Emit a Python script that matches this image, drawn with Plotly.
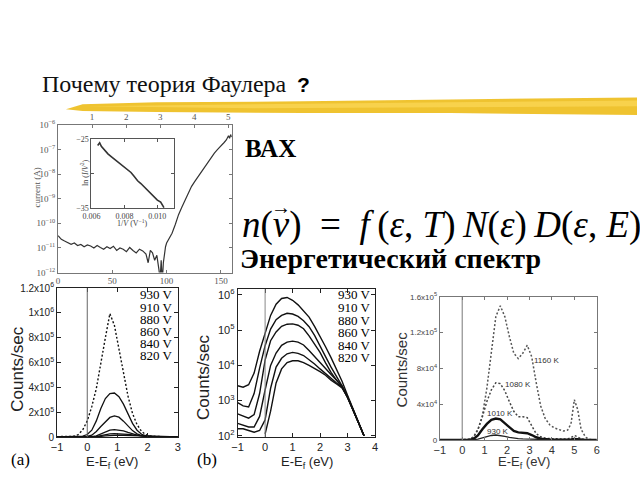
import plotly.graph_objects as go

W, H = 640, 480
def px(x): return x / W
def py(y): return 1 - y / H

SERIF = "'Liberation Serif', 'Times New Roman', 'DejaVu Serif', serif"
SANS = "'Liberation Sans', Arial, sans-serif"

# ---------------- data ----------------
# I-V curve (main panel): voltage (V) and log10(current / A)
iv_voltage = [0, 3, 6, 9, 12, 15, 18, 21, 24, 27, 30, 33, 36, 39, 42, 45, 48, 51, 54, 57,
              60, 63, 66, 69, 72, 75, 78, 81, 83, 85, 87, 89, 91, 93, 94, 95, 96, 97, 98, 99,
              100, 102, 105, 108, 111, 114, 117, 120, 123, 126, 129, 132, 135, 138, 141, 144,
              147, 150, 153, 155, 157, 158, 159, 160]
iv_log10_current = [-10.5, -10.65, -10.72, -10.78, -10.85, -10.8, -10.9, -10.86, -10.95, -10.88,
                    -10.92, -11.0, -10.9, -10.98, -11.05, -10.95, -11.02, -10.93, -11.1, -11.0,
                    -11.05, -11.15, -10.98, -11.1, -11.2, -11.05, -11.12, -11.25, -11.6, -11.1,
                    -11.2, -11.5, -11.3, -11.9, -12.3, -11.5, -12.4, -11.6, -11.2, -10.95,
                    -10.8, -10.65, -10.4, -10.05, -9.65, -9.35, -9.05, -8.75, -8.5, -8.3,
                    -8.1, -7.9, -7.72, -7.55, -7.33, -7.15, -7.0, -6.88, -6.72, -6.62,
                    -6.45, -6.55, -6.4, -6.5]
top_axis_ticks = [1, 2, 3, 4, 5]
iv_y_exponents = [-12, -11, -10, -9, -8, -7, -6]

# Fowler-Nordheim inset
fn_inv_v = [0.00638, 0.0065, 0.0066, 0.0067, 0.0068, 0.007, 0.0072, 0.0074, 0.0076, 0.0078,
            0.008, 0.0082, 0.0084, 0.0086, 0.0088, 0.009, 0.0092, 0.0094, 0.0096, 0.0098,
            0.01, 0.0102, 0.0104]
fn_ln_iv2 = [-25.9, -25.5, -26.0, -26.3, -26.6, -27.1, -27.5, -27.9, -28.2, -28.6,
             -29.0, -29.4, -29.8, -30.4, -31.0, -31.4, -31.9, -32.4, -32.8, -33.4,
             -33.8, -34.1, -34.9]

# Panel (a): linear energy spectra
voltage_labels = ["930 V", "910 V", "880 V", "860 V", "840 V", "820 V"]
energy_a = [-1, -0.6, -0.45, -0.3, -0.15, 0, 0.15, 0.3, 0.45, 0.6, 0.75, 0.9, 1.05, 1.2,
            1.35, 1.5, 1.65, 1.8, 1.95, 2.1, 2.3, 2.6, 3.0]
counts_a_930 = [3000, 4000, 6000, 20000, 58000, 130000, 245000, 390000, 610000, 800000, 995000,
                900000, 710000, 520000, 330000, 190000, 100000, 45000, 18000, 7000, 3000, 1500, 500]
counts_a_910 = [800, 1000, 1500, 3000, 7000, 20000, 55000, 130000, 230000, 310000, 350000,
                355000, 325000, 265000, 180000, 110000, 55000, 22000, 9000, 4000, 2000, 1000, 400]
counts_a_880 = [300, 400, 600, 1000, 2000, 5000, 15000, 45000, 85000, 125000, 158000,
                170000, 160000, 128000, 88000, 52000, 26000, 12000, 6000, 3000, 1500, 800, 300]
counts_a_860 = [200, 250, 300, 400, 600, 1000, 3000, 10000, 25000, 42000, 55000,
                60000, 58000, 50000, 38000, 26000, 16000, 9000, 5000, 2800, 1500, 700, 300]
counts_a_840 = [100, 120, 150, 200, 250, 300, 1000, 4000, 11000, 19000, 25000,
                28000, 28000, 26000, 22000, 17000, 12000, 8000, 5000, 3000, 1700, 800, 300]
counts_a_820 = [50, 60, 70, 80, 90, 100, 300, 1500, 5000, 9500, 12500,
                14500, 15000, 14500, 13000, 11000, 8500, 6500, 4500, 3000, 1800, 800, 300]
counts_a = [counts_a_930, counts_a_910, counts_a_880, counts_a_860, counts_a_840, counts_a_820]
a_ytick_vals = [0, 200000, 400000, 600000, 800000, 1000000, 1200000]
a_ytick_text = ["0", "2x10<sup>5</sup>", "4x10<sup>5</sup>", "6x10<sup>5</sup>",
                "8x10<sup>5</sup>", "1x10<sup>6</sup>", "1.2x10<sup>6</sup>"]

# Panel (b): log energy spectra, log10(counts/sec)
energy_b = [-1.0, -0.8, -0.6, -0.4, -0.2, 0.0, 0.2, 0.4, 0.6, 0.8, 1.0, 1.2, 1.4, 1.6,
            1.8, 2.0, 2.2, 2.4, 2.6, 2.8, 3.0, 3.2, 3.4, 3.6]
log_b_930 = [3.42, 3.38, 3.45, 3.78, 4.40, 4.92, 5.42, 5.74, 5.90, 5.93, 5.85, 5.72, 5.56, 5.37,
             5.11, 4.83, 4.53, 4.22, 3.90, 3.55, 3.15, 2.75, 2.37, 2.0]
log_b_910 = [2.94, 2.85, 2.82, 3.20, 3.92, 4.56, 5.03, 5.30, 5.42, 5.48, 5.46, 5.39, 5.27, 5.10,
             4.85, 4.57, 4.25, 3.95, 3.70, 3.42, 3.10, 2.75, 2.37, 2.0]
log_b_880 = [2.62, 2.55, 2.50, 2.60, 3.20, 4.15, 4.70, 4.95, 5.11, 5.17, 5.18, 5.14, 5.04, 4.84,
             4.60, 4.37, 4.07, 3.80, 3.58, 3.38, 3.08, 2.75, 2.37, 2.0]
log_b_860 = [2.35, 2.30, 2.25, 2.25, 2.55, 3.30, 4.00, 4.35, 4.57, 4.66, 4.69, 4.66, 4.58, 4.42,
             4.25, 4.05, 3.90, 3.74, 3.58, 3.42, 3.10, 2.75, 2.37, 2.0]
log_b_840 = [2.20, 2.20, 2.15, 2.10, 2.15, 2.45, 3.35, 3.95, 4.20, 4.33, 4.37, 4.34, 4.28, 4.17,
             4.04, 3.90, 3.76, 3.62, 3.50, 3.38, 3.10, 2.75, 2.37, 2.0]
log_b_820 = [None, None, None, None, None, 2.05, 2.70, 3.50, 3.90, 4.08, 4.13, 4.13, 4.08, 4.00,
             3.92, 3.82, 3.72, 3.58, 3.47, 3.36, 3.10, 2.75, 2.37, 2.0]
log_b = [log_b_930, log_b_910, log_b_880, log_b_860, log_b_840, log_b_820]
b_exponents = [2, 3, 4, 5, 6]

# Panel (c): temperature spectra (counts/sec in units of 1e4)
temp_labels = ["1160 K", "1080 K", "1010 K", "930 K"]
temp_label_pos_x = [3.74, 2.47, 1.69, 1.61]
temp_label_pos_y = [89000, 61700, 30000, 9800]
energy_c = [-1, 0, 0.3, 0.5, 0.7, 0.9, 1.1, 1.3, 1.5, 1.7, 1.9, 2.1, 2.3, 2.5, 2.7, 2.9, 3.1,
            3.3, 3.5, 3.7, 3.9, 4.1, 4.3, 4.5, 4.7, 4.85, 5.0, 5.15, 5.3, 5.5, 5.7, 6.0]
c_1160 = [0, 0, 0.1, 0.3, 1.1, 2.7, 5.8, 9.8, 13.8, 15.0, 13.8, 11.6, 9.7, 9.1, 9.7, 10.6, 9.3,
          6.4, 3.8, 2.4, 1.7, 1.35, 1.15, 1.0, 1.1, 1.8, 4.5, 3.4, 1.2, 0.3, 0.05, 0]
c_1080 = [0, 0, 0.05, 0.3, 1.2, 2.6, 4.3, 5.6, 6.4, 6.3, 5.5, 4.3, 3.2, 2.6, 2.6, 2.5, 1.6,
          0.7, 0.35, 0.2, 0.15, 0.12, 0.1, 0.1, 0.12, 0.25, 0.5, 0.35, 0.1, 0.02, 0, 0]
c_1010 = [0, 0, 0, 0.1, 0.5, 1.2, 1.8, 2.25, 2.4, 2.3, 1.9, 1.4, 1.0, 0.85, 0.8, 0.75, 0.55,
          0.3, 0.15, 0.08, 0.05, 0.04, 0.03, 0.03, 0.03, 0.05, 0.1, 0.06, 0.02, 0, 0, 0]
c_930 = [0, 0, 0, 0.02, 0.1, 0.25, 0.4, 0.5, 0.55, 0.5, 0.4, 0.3, 0.2, 0.15, 0.12, 0.1, 0.06,
         0.03, 0.02, 0.01, 0, 0, 0, 0, 0, 0, 0.02, 0.01, 0, 0, 0, 0]
counts_c = [c_1160, c_1080, c_1010, c_930]
c_ytick_vals = [0, 40000, 80000, 120000, 160000]
c_ytick_text = ["0", "4x10<sup>4</sup>", "8x10<sup>4</sup>", "1.2x10<sup>5</sup>", "1.6x10<sup>5</sup>"]

# ---------------- figure ----------------
fig = go.Figure()

# I-V main
fig.add_trace(go.Scatter(x=iv_voltage, y=[10 ** v for v in iv_log10_current], mode="lines",
                         line=dict(color="#333", width=1.2), xaxis="x", yaxis="y"))
fig.add_trace(go.Scatter(x=[None], y=[None], xaxis="x2", yaxis="y"))
# inset
fig.add_trace(go.Scatter(x=fn_inv_v, y=fn_ln_iv2, mode="lines",
                         line=dict(color="#333", width=1.6), xaxis="x3", yaxis="y3"))
# panel a
for i, arr in enumerate(counts_a):
    fig.add_trace(go.Scatter(x=energy_a, y=arr, mode="lines",
                             line=dict(color="#111", width=1.4 if i == 0 else 1.3,
                                       dash="2px,2px" if i == 0 else "solid"),
                             xaxis="x4", yaxis="y4"))
# panel b
for i, arr in enumerate(log_b):
    fig.add_trace(go.Scatter(x=energy_b, y=[None if v is None else 10 ** v for v in arr],
                             mode="lines", line=dict(color="#111", width=1.4),
                             xaxis="x5", yaxis="y5"))
# panel c
c_styles = [dict(color="#555", width=1.5, dash="2px,2px"), dict(color="#444", width=1.5, dash="2px,2px"),
            dict(color="#111", width=2.4), dict(color="#222", width=1.3)]
for arr, st in zip(counts_c, c_styles):
    fig.add_trace(go.Scatter(x=energy_c, y=[v * 1e4 for v in arr], mode="lines", line=st,
                             xaxis="x6", yaxis="y6"))

frame = dict(showline=True, mirror="ticks", ticks="inside", showgrid=False, zeroline=False,
             linewidth=1)

layout = dict(
    width=W, height=H, margin=dict(l=0, r=0, t=0, b=0),
    paper_bgcolor="white", plot_bgcolor="rgba(0,0,0,0)", showlegend=False,
    # I-V
    xaxis=dict(domain=[px(50), px(227)], range=[0, 160], anchor="y", tickvals=[0, 50, 100, 150],
               linecolor="#777", tickcolor="#777", ticklen=3,
               tickfont=dict(family=SERIF, size=9, color="#555"),
               showline=True, mirror=False, ticks="inside", showgrid=False, zeroline=False),
    xaxis2=dict(overlaying="x", side="top", anchor="y", range=[0, 5.1], tickvals=top_axis_ticks,
                linecolor="#777", tickcolor="#777", ticklen=3, showline=True, ticks="inside",
                showgrid=False, zeroline=False,
                tickfont=dict(family=SERIF, size=9, color="#555")),
    yaxis=dict(domain=[py(273), py(121)], type="log", range=[-12, -6], anchor="x",
               tickvals=[10 ** e for e in iv_y_exponents],
               ticktext=["10<sup>−%d</sup>" % (-e) for e in iv_y_exponents],
               linecolor="#777", tickcolor="#777", ticklen=3,
               tickfont=dict(family=SERIF, size=9, color="#555"), **frame),
    # inset
    xaxis3=dict(domain=[px(84), px(168)], range=[0.006, 0.011], anchor="y3",
                tickvals=[0.006, 0.008, 0.010], ticktext=["0.006", "0.008", "0.010"],
                linecolor="#555", tickcolor="#555", ticklen=3,
                tickfont=dict(family=SERIF, size=8, color="#444"), **frame),
    yaxis3=dict(domain=[py(207), py(136)], range=[-35, -25], anchor="x3",
                tickvals=[-35, -30, -25], ticktext=["−35", " ", "−25"],
                linecolor="#555", tickcolor="#555", ticklen=3,
                tickfont=dict(family=SERIF, size=8, color="#444"), **frame),
    # panel a
    xaxis4=dict(domain=[px(49), px(172)], range=[-1, 3], anchor="y4", tickvals=[-1, 0, 1, 2, 3],
                linecolor="#222", tickcolor="#222", ticklen=4,
                tickfont=dict(family=SANS, size=11, color="#222"), **frame),
    yaxis4=dict(domain=[py(442), py(289)], range=[0, 1.2e6], anchor="x4",
                tickvals=a_ytick_vals, ticktext=a_ytick_text,
                linecolor="#222", tickcolor="#222", ticklen=4,
                tickfont=dict(family=SANS, size=10, color="#222"), **frame),
    # panel b
    xaxis5=dict(domain=[px(233), px(373)], range=[-1, 4], anchor="y5",
                tickvals=[-1, 0, 1, 2, 3, 4],
                linecolor="#222", tickcolor="#222", ticklen=4,
                tickfont=dict(family=SANS, size=11, color="#222"), **frame),
    yaxis5=dict(domain=[py(442), py(290)], type="log", range=[1.964, 6.166], anchor="x5",
                tickvals=[10 ** e for e in b_exponents],
                ticktext=["10<sup>%d</sup>" % e for e in b_exponents],
                linecolor="#222", tickcolor="#222", ticklen=4,
                tickfont=dict(family=SANS, size=11, color="#222"), **frame),
    # panel c
    xaxis6=dict(domain=[px(439), px(599)], range=[-1, 6], anchor="y6",
                tickvals=[-1, 0, 1, 2, 3, 4, 5, 6],
                linecolor="#777", tickcolor="#777", ticklen=3,
                tickfont=dict(family=SANS, size=11, color="#333"), **frame),
    yaxis6=dict(domain=[py(445), py(298)], range=[0, 1.6e5], anchor="x6",
                tickvals=c_ytick_vals, ticktext=c_ytick_text,
                linecolor="#777", tickcolor="#777", ticklen=3,
                tickfont=dict(family=SANS, size=8, color="#444"), **frame),
)
fig.update_layout(**layout)

# ---------------- shapes ----------------
def ppath(points):
    s = "M %f,%f " % (px(points[0][0]), py(points[0][1]))
    for x, y in points[1:]:
        s += "L %f,%f " % (px(x), py(y))
    return s + "Z"

shapes = [
    dict(type="path", xref="paper", yref="paper", layer="above",
         path=ppath([(58, 105), (75, 100), (150, 98), (300, 97), (450, 95), (640, 93),
                     (640, 111), (450, 109), (300, 109), (150, 108), (75, 107)]),
         fillcolor="rgba(238,190,30,0.92)", line=dict(width=0)),
    dict(type="path", xref="paper", yref="paper", layer="above",
         path=ppath([(80, 102), (250, 100), (450, 98), (640, 96),
                     (640, 102), (450, 103), (250, 104)]),
         fillcolor="rgba(250,214,84,0.8)", line=dict(width=0)),
    # x = 0 reference lines
    dict(type="line", xref="x4", yref="y4 domain", x0=0, x1=0, y0=0, y1=1,
         line=dict(color="#666", width=1)),
    dict(type="line", xref="x5", yref="y5 domain", x0=0, x1=0, y0=0, y1=1,
         line=dict(color="#888", width=1)),
    dict(type="line", xref="x6", yref="y6 domain", x0=0, x1=0, y0=0, y1=1,
         line=dict(color="#777", width=1)),
]
fig.update_layout(shapes=shapes)

# ---------------- annotations ----------------
ann = []
def text(x, y, t, size, family=SERIF, color="black", xanchor="left", yanchor="middle", angle=0):
    ann.append(dict(x=px(x), y=py(y), xref="paper", yref="paper", text=t, showarrow=False,
                    xanchor=xanchor, yanchor=yanchor, textangle=angle,
                    font=dict(family=family, size=size, color=color)))

text(32, 79, "Почему теория Фаулера", 24, color="#111")
text(300, 80, "<b>?</b>", 21, family=SANS, xanchor="center")
text(238, 145, "<b>ВАХ</b>", 25)
TS = "\u2009"
EN = "\u2002"
text(235, 224, "<i>n</i>(<i>v</i>)" + EN + "=" + EN + "<i>f</i>" + TS + "(<i>ε</i>, <i>T</i>)"
     + TS + "<i>N</i>(<i>ε</i>)" + TS + "<i>D</i>(<i>ε</i>, <i>E</i>)", 37)
text(277, 206, "→", 20, xanchor="center")
text(233, 259, "<b>Энергетический спектр</b>", 28)

text(29, 185, "current (A)", 9, color="#555", xanchor="center", angle=-90)
text(77, 171, "ln (<i>I</i>/<i>V</i><sup>2</sup>)", 8, color="#444", xanchor="center", angle=-90)
text(126, 222, "1/<i>V</i> (V<sup>−1</sup>)", 8, color="#444", xanchor="center")

text(9, 372, "Counts/sec", 17, family=SANS, color="#222", xanchor="center", angle=-90)
text(105, 468, "E-E<sub>f</sub> (eV)", 13, family=SANS, color="#222", xanchor="center")
text(0, 465, "(a)", 17)
text(198, 380, "Counts/sec", 17, family=SANS, color="#222", xanchor="center", angle=-90)
text(304, 468, "E-E<sub>f</sub> (eV)", 13, family=SANS, color="#222", xanchor="center")
text(190, 465, "(b)", 17)
text(400, 373, "Counts/sec", 15, family=SANS, color="#333", xanchor="center", angle=-90)
text(525, 468, "E-E<sub>f</sub> (eV)", 13, family=SANS, color="#333", xanchor="center")

for i, lab in enumerate(voltage_labels):
    text(169, 296 + 12.4 * i, lab, 13, xanchor="right")
    text(371, 296 + 12.9 * i, lab, 13, xanchor="right")

for lab, lx, ly in zip(temp_labels, temp_label_pos_x, temp_label_pos_y):
    ann.append(dict(x=lx, y=ly, xref="x6", yref="y6", text=lab, showarrow=False,
                    font=dict(family=SANS, size=8, color="#333")))

fig.update_layout(annotations=ann)

fig.write_html("out.html", config={"displayModeBar": False},
               post_script="document.body.style.margin='0px';document.body.style.padding='0px';"
                           "document.body.style.overflow='hidden';")
